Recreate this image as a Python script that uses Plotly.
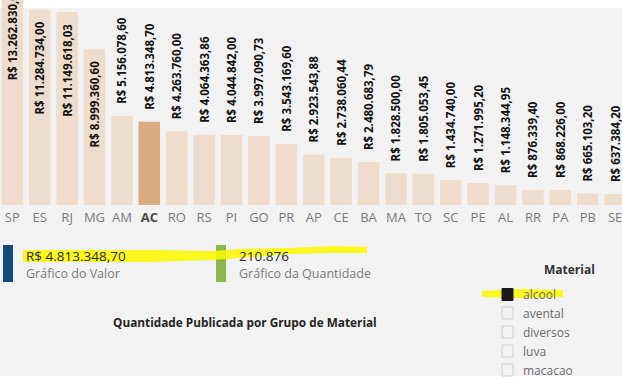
import plotly.graph_objects as go

# ---------------- data ----------------
estados = ["SP", "ES", "RJ", "MG", "AM", "AC", "RO", "RS", "PI", "GO", "PR", "AP",
           "CE", "BA", "MA", "TO", "SC", "PE", "AL", "RR", "PA", "PB", "SE"]
valores = [13262830.00, 11284734.00, 11149618.03, 8999360.60, 5156078.60, 4813348.70,
           4263760.00, 4064363.86, 4044842.00, 3997090.73, 3543169.60, 2923543.88,
           2738060.44, 2480683.79, 1828500.00, 1805053.45, 1434740.00, 1271995.20,
           1148344.95, 876339.40, 868226.00, 665103.20, 637384.20]
estado_selecionado = "AC"

card_valor = "R$ 4.813.348,70"
card_valor_titulo = "Gráfico do Valor"
card_qtd = "210.876"
card_qtd_titulo = "Gráfico da Quantidade"
titulo_material = "Quantidade Publicada por Grupo de Material"
slicer_titulo = "Material"
materiais = ["alcool", "avental", "diversos", "luva", "macacao"]
material_selecionado = "alcool"

# ---------------- styling ----------------
W, H = 622, 388
PB = 205  # bottom of the bar plot area in pixels
FONT = "Open Sans"
BG = "#F2F2F2"
BAR = "#EEDDCC"
BAR_HL = "#DBAC82"
YELLOW = "rgba(250,248,0,0.88)"


def px(x):
    return x / W


def py(y):
    return (PB - y) / PB


inside = [v >= 8e6 for v in valores]
pad = "\u00a0\u00a0\u00a0"
templates = [("R$ %{y:,.2f}" + pad) if i else (pad + "R$ %{y:,.2f}") for i in inside]
positions = ["inside" if i else "outside" for i in inside]
colors = [BAR_HL if e == estado_selecionado else BAR for e in estados]
ticktext = [f"<b><span style='color:#4a4a4a'>{e}</span></b>" if e == estado_selecionado else e
            for e in estados]

fig = go.Figure()
fig.add_trace(go.Bar(
    x=estados, y=valores,
    marker=dict(color=colors, line=dict(width=0)),
    texttemplate=templates,
    textposition=positions,
    insidetextanchor="end",
    textangle=-90,
    constraintext="none",
    cliponaxis=True,
    textfont=dict(family=FONT, size=11.5, color="#111111", weight="bold"),
    hoverinfo="skip",
))

shapes = []
# white strip at the top of the canvas
shapes.append(dict(type="rect", xref="paper", yref="paper", x0=0, x1=1, y0=py(8), y1=py(-2),
                   fillcolor="white", line=dict(width=0), layer="below"))
# white strip at the bottom
shapes.append(dict(type="rect", xref="paper", yref="paper", x0=0, x1=1, y0=py(392), y1=py(376),
                   fillcolor="white", line=dict(width=0), layer="above"))
# card accents
shapes.append(dict(type="rect", xref="paper", yref="paper", x0=px(3), x1=px(13), y0=py(282), y1=py(245),
                   fillcolor="#114A7E", line=dict(width=0), layer="above"))
shapes.append(dict(type="rect", xref="paper", yref="paper", x0=px(216), x1=px(226), y0=py(282), y1=py(245),
                   fillcolor="#8BB54E", line=dict(width=0), layer="above"))


def poly(pts):
    return "M " + " L ".join(f"{px(x):.5f},{py(y):.5f}" for x, y in pts) + " Z"


# highlighter strokes
stroke1 = [(23, 250), (150, 250), (213, 251), (240, 249), (290, 248), (333, 246), (367, 247),
           (367, 253), (333, 253), (290, 254), (240, 258), (213, 260), (150, 262), (23, 262)]
stroke2 = [(482, 291), (520, 289), (563, 290), (563, 297), (520, 298), (482, 297)]
for st in (stroke1, stroke2):
    shapes.append(dict(type="path", xref="paper", yref="paper", path=poly(st),
                       fillcolor=YELLOW, line=dict(width=0), layer="above"))

# slicer checkboxes
ys = [294.5, 313, 332, 351, 370]
for m, yc in zip(materiais, ys):
    sel = m == material_selecionado
    shapes.append(dict(type="rect", xref="paper", yref="paper",
                       x0=px(502), x1=px(513), y0=py(yc + 6), y1=py(yc - 6),
                       fillcolor="#1b1b1b" if sel else "rgba(0,0,0,0)",
                       line=dict(width=1, color="#1b1b1b" if sel else "#cfcfcf"), layer="above"))

ann = []


def text(x, y, t, size, color, bold=False, xanchor="left"):
    ann.append(dict(xref="paper", yref="paper", x=px(x), y=py(y), text=t, showarrow=False,
                    xanchor=xanchor, yanchor="middle",
                    font=dict(family=FONT, size=size, color=color, weight="bold" if bold else "normal")))


text(24, 256, card_valor, 13.5, "#2b2b2b")
text(24, 273, card_valor_titulo, 12.5, "#7a7a7a")
text(237, 256, card_qtd, 13.5, "#2b2b2b")
text(237, 273, card_qtd_titulo, 12.5, "#7a7a7a")
text(245, 322, titulo_material, 11.8, "#252423", bold=True, xanchor="center")
text(597, 269, slicer_titulo, 12, "#333333", bold=True, xanchor="right")
for m, yc in zip(materiais, ys):
    text(521, yc, m, 12, "#6b6b6b")

fig.update_layout(
    width=W, height=H, autosize=False,
    margin=dict(l=0, r=0, t=0, b=H - PB, pad=0),
    paper_bgcolor=BG, plot_bgcolor="rgba(0,0,0,0)",
    separators=",.",
    bargap=0.215,
    showlegend=False,
    shapes=shapes,
    annotations=ann,
    xaxis=dict(type="category", range=[-0.449, 22.25], showgrid=False, zeroline=False,
               showline=False, ticks="", tickmode="array", tickvals=estados, ticktext=ticktext,
               tickfont=dict(family=FONT, size=13, color="#7a7a7a"), fixedrange=True,
               automargin=False, ticklabelstandoff=3),
    yaxis=dict(range=[0, 11.85e6], visible=False, fixedrange=True, automargin=False),
)

fig.write_html("out.html", config={"displayModeBar": False},
               post_script="document.body.style.margin='0';document.body.style.overflow='hidden';")
